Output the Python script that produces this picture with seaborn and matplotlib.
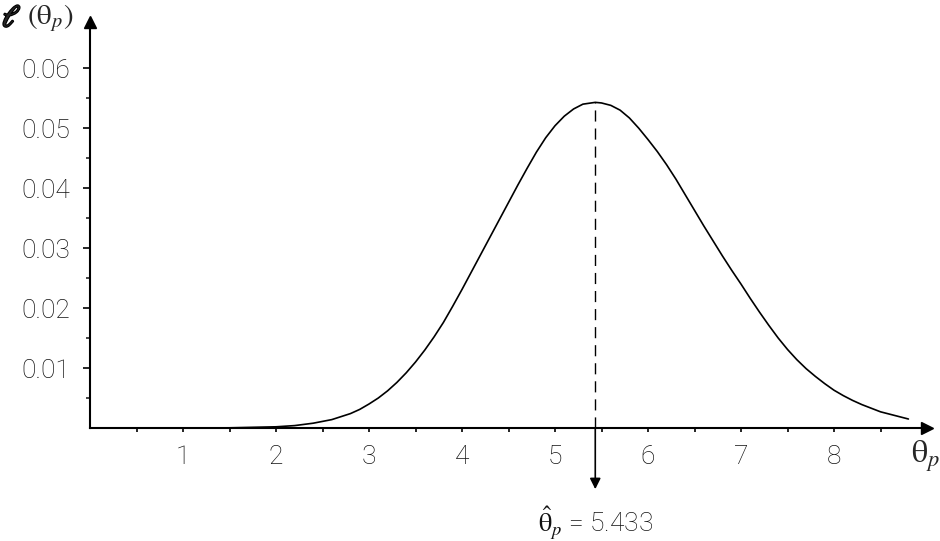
import matplotlib
matplotlib.use("Agg")
import matplotlib.pyplot as plt
import matplotlib.patheffects as pe
import numpy as np
import pandas as pd
import seaborn as sns

# likelihood curve
theta = [1.0, 1.5, 2.0, 2.2, 2.4, 2.5, 2.6, 2.7, 2.8, 2.9, 3.0, 3.1, 3.2, 3.3,
         3.4, 3.5, 3.6, 3.7, 3.8, 3.9, 4.0, 4.1, 4.2, 4.3, 4.4, 4.5, 4.6, 4.7,
         4.8, 4.9, 5.0, 5.1, 5.2, 5.3, 5.433, 5.5, 5.6, 5.7, 5.8, 5.9, 6.0,
         6.1, 6.2, 6.3, 6.4, 6.5, 6.6, 6.7, 6.8, 6.9, 7.0, 7.1, 7.2, 7.3, 7.4,
         7.5, 7.6, 7.7, 7.8, 7.9, 8.0, 8.1, 8.2, 8.3, 8.4, 8.5, 8.6, 8.7, 8.8]
lik = [0.0, 0.00003, 0.0002, 0.0004, 0.0008, 0.0011, 0.0014, 0.0019, 0.0024,
       0.0031, 0.0040, 0.0050, 0.0062, 0.0076, 0.0092, 0.0110, 0.0130, 0.0152,
       0.0176, 0.0203, 0.0231, 0.0260, 0.0289, 0.0318, 0.0347, 0.0376, 0.0405,
       0.0433, 0.0460, 0.0484, 0.0504, 0.0520, 0.0532, 0.0540, 0.0543, 0.0542,
       0.0538, 0.0530, 0.0517, 0.0500, 0.0481, 0.0461, 0.0439, 0.0415, 0.0389,
       0.0363, 0.0337, 0.0312, 0.0287, 0.0263, 0.0240, 0.0216, 0.0193, 0.0171,
       0.0150, 0.0131, 0.0114, 0.0099, 0.0086, 0.0074, 0.0063, 0.0054, 0.0046,
       0.0039, 0.0033, 0.0027, 0.0023, 0.0019, 0.0015]
theta_hat = 5.433
lik_max = 0.0543

x_ticks = [1, 2, 3, 4, 5, 6, 7, 8]
y_ticks = [0.01, 0.02, 0.03, 0.04, 0.05, 0.06]
y_labels = ["0.01", "0.02", "0.03", "0.04", "0.05", "0.06"]

df = pd.DataFrame({"theta": theta, "lik": lik})

sns.set_style("ticks")
plt.rcParams["font.family"] = ["Roboto", "DejaVu Sans"]
plt.rcParams["mathtext.fontset"] = "stix"

fig = plt.figure(figsize=(9.4, 5.41), dpi=100)
ax = fig.add_axes([90 / 940, 113 / 541, 837 / 940, 406 / 541])

sns.lineplot(data=df, x="theta", y="lik", ax=ax, color="black", lw=1.2)

ax.set_xlim(0, 9.0)
ax.set_ylim(0, 0.0677)
ax.set_xlabel("")
ax.set_ylabel("")

for s in ["top", "right"]:
    ax.spines[s].set_visible(False)
for s in ["left", "bottom"]:
    ax.spines[s].set_linewidth(1.5)
    ax.spines[s].set_color("black")

# arrow heads on the axes
ax.plot(1, 0, ">k", ms=8, transform=ax.get_yaxis_transform(), clip_on=False)
ax.plot(0, 1, "^k", ms=8, transform=ax.get_xaxis_transform(), clip_on=False)

ax.set_xticks(x_ticks)
ax.set_xticklabels([str(t) for t in x_ticks])
ax.set_xticks(np.arange(0.5, 9.0, 1.0), minor=True)
ax.set_yticks(y_ticks)
ax.set_yticklabels(y_labels)
ax.set_yticks(np.arange(0.005, 0.06, 0.01), minor=True)

ax.tick_params(axis="x", which="both", direction="out", length=3, width=1.2,
               pad=9, labelsize=19, colors="black")
ax.tick_params(axis="y", which="major", direction="out", length=5, width=1.2,
               pad=9, labelsize=19, colors="black")
ax.tick_params(axis="y", which="minor", direction="out", length=3, width=1.2)
for lab in ax.get_xticklabels() + ax.get_yticklabels():
    lab.set_fontweight("light")
    lab.set_color("#111111")

# dashed line at the maximum and arrow to the estimate
ax.plot([theta_hat, theta_hat], [0, lik_max], color="black", lw=1.0,
        dashes=(8, 5))
ax.annotate("", xy=(theta_hat, -0.0102), xytext=(theta_hat, 0.0),
            arrowprops=dict(arrowstyle="-|>", color="black", lw=1.2,
                            mutation_scale=16, shrinkA=0, shrinkB=0),
            annotation_clip=False)

ax.text(theta_hat, -0.0128, r"$\hat{\mathrm{\theta}}_{p}$" + " = 5.433",
        ha="center", va="top", fontsize=19, fontweight="light",
        color="#111111", clip_on=False)

# axis labels
fig.text(911 / 940, 1 - 456 / 541, r"$\mathrm{\theta}_{p}$", fontsize=23,
         ha="left", va="center")
fig.text(2 / 940, 1 - 18 / 541, r"$\ell$", fontsize=22, ha="left",
         va="center",
         path_effects=[pe.withStroke(linewidth=1.6, foreground="black")])
fig.text(27 / 940, 1 - 18 / 541, r"$(\mathrm{\theta}_{p})$", fontsize=21,
         ha="left", va="center")

fig.savefig("out.png", dpi=100)
